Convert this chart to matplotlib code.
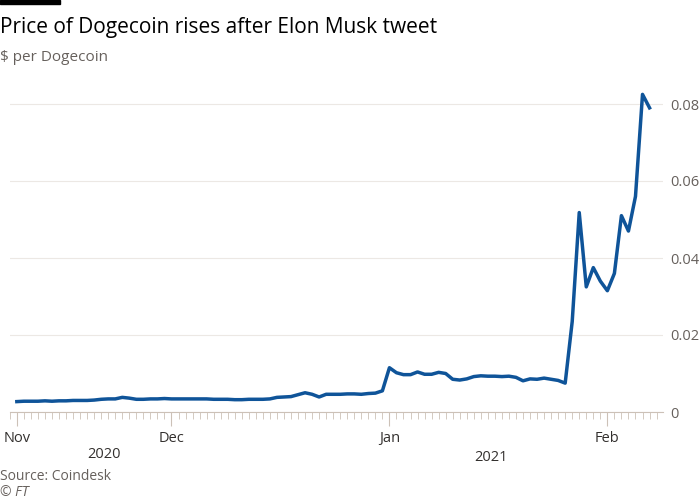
import matplotlib.pyplot as plt

plt.rcParams['font.family'] = ['Open Sans', 'DejaVu Sans']

# daily index; month ticks at these positions
month_pos = [0, 22, 53, 84]
month_labels = ['Nov', 'Dec', 'Jan', 'Feb']

price = [
    # Nov
    0.0027, 0.0028, 0.0028, 0.0028, 0.0029, 0.0028, 0.0029, 0.0029, 0.0030, 0.0030,
    0.0030, 0.0031, 0.0033, 0.0034, 0.0034, 0.0038, 0.0036, 0.0033, 0.0033, 0.0034,
    0.0034, 0.0035,
    # Dec
    0.0034, 0.0034, 0.0034, 0.0034, 0.0034, 0.0034, 0.0033, 0.0033, 0.0033, 0.0032,
    0.0032, 0.0033, 0.0033, 0.0033, 0.0034, 0.0038, 0.0039, 0.0040, 0.0045, 0.0050,
    0.0046, 0.0039, 0.0046, 0.0046, 0.0046, 0.0047, 0.0047, 0.0046, 0.0048, 0.0049,
    0.0055,
    # Jan
    0.0115, 0.0102, 0.0097, 0.0097, 0.0104, 0.0098, 0.0098, 0.0103, 0.0100, 0.0085,
    0.0083, 0.0086, 0.0092, 0.0094, 0.0093, 0.0093, 0.0092, 0.0093, 0.0090, 0.0081,
    0.0086, 0.0085, 0.0088, 0.0085, 0.0082, 0.0075, 0.0235, 0.0518, 0.0325, 0.0375,
    0.0340,
    # Feb
    0.0315, 0.0360, 0.0510, 0.0470, 0.0560, 0.0825, 0.0790,
]

fig = plt.figure(figsize=(7, 5), dpi=100, facecolor='white')
ax = fig.add_axes([0.014, 0.176, 0.933, 0.6545])
ax.plot(range(len(price)), price, color='#0f5499', lw=2.5, solid_joinstyle='round')

ax.set_xlim(-1, 91.9)
ax.set_ylim(0, 0.085)
ax.set_yticks([0, 0.02, 0.04, 0.06, 0.08])
ax.set_yticklabels(['0', '0.02', '0.04', '0.06', '0.08'])
ax.yaxis.tick_right()
ax.tick_params(axis='y', length=0, labelsize=10.5, labelcolor='#66605c', pad=5)
ax.grid(axis='y', color='#ece8e4', lw=0.8)

ax.set_xticks(month_pos)
ax.set_xticklabels(month_labels)
ax.set_xticks(range(-1, 92), minor=True)
ax.tick_params(axis='x', which='major', length=10, color='#ccc1b7', labelsize=10.5,
               labelcolor='#33302e')
ax.tick_params(axis='x', which='minor', length=5, color='#ccc1b7')

for s in ['top', 'right', 'left']:
    ax.spines[s].set_visible(False)
ax.spines['bottom'].set_color('#ccc1b7')
ax.set_axisbelow(True)

fig.text(0.125, 0.085, '2020', fontsize=10.5, color='#33302e', ha='left')
fig.text(0.678, 0.078, '2021', fontsize=10.5, color='#33302e', ha='left')

fig.patches.append(plt.Rectangle((0, 0.992), 0.085, 0.008, transform=fig.transFigure,
                                 color='black'))
fig.text(0.0, 0.945, 'Price of Dogecoin rises after Elon Musk tweet', fontsize=15,
         color='#000000', va='center')
fig.text(0.0, 0.885, '$ per Dogecoin', fontsize=11, color='#66605c', va='center')
fig.text(0.0, 0.047, 'Source: Coindesk', fontsize=10, color='#66605c', va='center')
fig.text(0.0, 0.015, '© FT', fontsize=10, color='#66605c', va='center', style='italic')

fig.savefig('out.png', dpi=100, facecolor='white')
